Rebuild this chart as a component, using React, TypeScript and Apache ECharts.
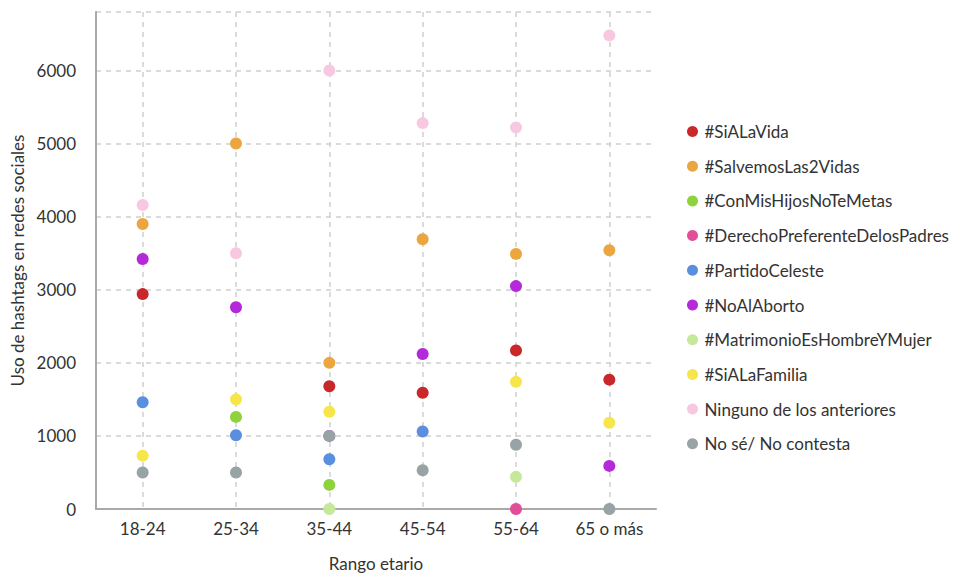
import React, { useEffect, useRef } from "react";
import * as echarts from "echarts";

const categories = ["18-24", "25-34", "35-44", "45-54", "55-64", "65 o más"];

const seriesNames = [
  "#SiALaVida",
  "#SalvemosLas2Vidas",
  "#ConMisHijosNoTeMetas",
  "#DerechoPreferenteDelosPadres",
  "#PartidoCeleste",
  "#NoAlAborto",
  "#MatrimonioEsHombreYMujer",
  "#SiALaFamilia",
  "Ninguno de los anteriores",
  "No sé/ No contesta",
];

const siALaVida = [2940, null, 1680, 1590, 2170, 1770];
const salvemos = [3900, 5000, 2000, 3690, 3490, 3540];
const conMisHijos = [null, 1260, 330, null, null, null];
const derechoPreferente = [null, null, null, null, 0, null];
const partidoCeleste = [1460, 1010, 680, 1060, null, null];
const noAlAborto = [3420, 2760, 1000, 2120, 3050, 590];
const matrimonio = [null, null, 0, null, 440, null];
const siALaFamilia = [730, 1500, 1330, null, 1740, 1180];
const ninguno = [4160, 3500, 6000, 5280, 5220, 6480];
const noSe = [500, 500, 1000, 530, 880, 0];

const seriesValues = [
  siALaVida,
  salvemos,
  conMisHijos,
  derechoPreferente,
  partidoCeleste,
  noAlAborto,
  matrimonio,
  siALaFamilia,
  ninguno,
  noSe,
];

const colors = [
  "#c9282a",
  "#eca640",
  "#8ed23e",
  "#e04f98",
  "#5a8fe0",
  "#b42ad8",
  "#c5e89a",
  "#f6e64a",
  "#f8c8e0",
  "#98a3a6",
];

const yTicks = [0, 1000, 2000, 3000, 4000, 5000, 6000];

export default function App() {
  const ref = useRef<HTMLDivElement>(null);
  useEffect(() => {
    if (!ref.current) return;
    const chart = echarts.init(ref.current, null, { renderer: "svg" });
    const font = "Lato, 'Noto Sans', sans-serif";
    chart.setOption({
      animation: false,
      color: colors,
      textStyle: { fontFamily: font },
      grid: {
        left: 96,
        right: 302,
        top: 12,
        bottom: 65,
        containLabel: false,
        outerBoundsMode: "none",
      },
      legend: {
        orient: "vertical",
        left: 682,
        top: 118,
        itemGap: 17.7,
        itemWidth: 14,
        itemHeight: 11,
        icon: "circle",
        textStyle: { fontSize: 17, color: "#333", fontFamily: font },
        data: seriesNames,
      },
      xAxis: {
        type: "category",
        data: categories,
        boundaryGap: true,
        name: "Rango etario",
        nameLocation: "middle",
        nameGap: 46,
        nameTextStyle: { fontSize: 17, color: "#333" },
        axisLine: { lineStyle: { color: "#a9a9a9", width: 2 } },
        axisTick: { show: false },
        axisLabel: { fontSize: 17, color: "#333", margin: 11 },
        splitLine: {
          show: true,
          alignWithLabel: true,
          lineStyle: { type: [5, 5], color: "#cfcfcf", width: 1.5 },
        },
      },
      yAxis: {
        type: "value",
        min: 0,
        max: 6800,
        interval: 1000,
        name: "Uso de hashtags en redes sociales",
        nameLocation: "middle",
        nameGap: 70,
        nameTextStyle: { fontSize: 17, color: "#333" },
        axisLine: { show: true, lineStyle: { color: "#a9a9a9", width: 2 } },
        axisTick: { show: false },
        axisLabel: {
          fontSize: 17,
          color: "#333",
          margin: 20,
          formatter: (v: number) => (yTicks.includes(v) ? String(v) : ""),
        },
        splitLine: {
          show: true,
          lineStyle: { type: [5, 5], color: "#cfcfcf", width: 1.5 },
        },
      },
      series: seriesNames.map((name, i) => ({
        name,
        type: "scatter",
        symbolSize: 12,
        data: seriesValues[i],
        itemStyle: { opacity: 1 },
        emphasis: { disabled: true },
      })),
    });
    return () => chart.dispose();
  }, []);
  return (
    <div
      ref={ref}
      style={{ position: "absolute", left: 0, top: 0, width: 958, height: 574 }}
    />
  );
}
